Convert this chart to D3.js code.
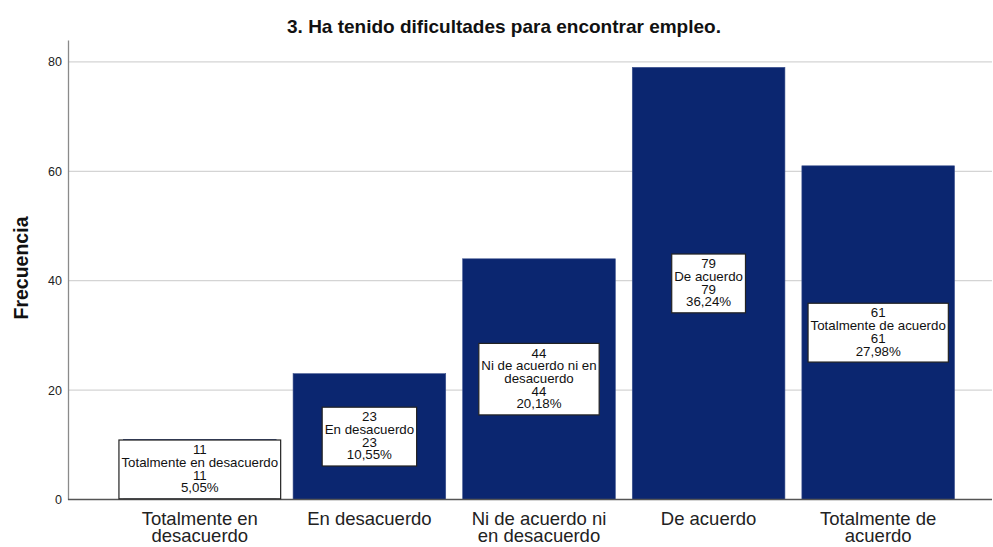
<!DOCTYPE html>
<html>
<head>
<meta charset="utf-8">
<script src="https://cdn.jsdelivr.net/npm/d3@7"></script>
<style>
  body { margin: 0; background: #fff; }
  text { font-family: "Liberation Sans", Arial, sans-serif; }
</style>
</head>
<body>
<svg id="chart" width="993" height="547"></svg>
<script>
// categories and values
var categories = ["Totalmente en desacuerdo", "En desacuerdo", "Ni de acuerdo ni en desacuerdo", "De acuerdo", "Totalmente de acuerdo"];
var tickLines = [["Totalmente en", "desacuerdo"], ["En desacuerdo"], ["Ni de acuerdo ni", "en desacuerdo"], ["De acuerdo"], ["Totalmente de", "acuerdo"]];
var boxLines = [["Totalmente en desacuerdo"], ["En desacuerdo"], ["Ni de acuerdo ni en", "desacuerdo"], ["De acuerdo"], ["Totalmente de acuerdo"]];
var counts = [11, 23, 44, 79, 61];
var percents = ["5,05%", "10,55%", "20,18%", "36,24%", "27,98%"];
var yTicks = [0, 20, 40, 60, 80];

var svg = d3.select("#chart");

// plot edges (window.top is reserved, so keep these in an object)
var plot = { left: 68, right: 992, top: 40, bottom: 499.5 };

var x = d3.scaleBand()
    .domain(categories)
    .range([115, 963])
    .paddingInner(0.1)
    .paddingOuter(0.05);

var y = d3.scaleLinear()
    .domain([0, 84])
    .range([plot.bottom, plot.top]);

// gridlines
svg.append("g")
    .selectAll("line")
    .data(yTicks.filter(function(d) { return d > 0; }))
    .enter().append("line")
    .attr("x1", plot.left)
    .attr("x2", plot.right)
    .attr("y1", function(d) { return y(d); })
    .attr("y2", function(d) { return y(d); })
    .style("stroke", "#d4d4d4")
    .style("stroke-width", 1.3);

// y axis
var yAxis = svg.append("g")
    .attr("transform", "translate(" + plot.left + ",0)")
    .call(d3.axisLeft(y).tickValues(yTicks).tickSize(0).tickPadding(6));
yAxis.select(".domain").style("stroke", "#8a8a8a").style("stroke-width", 1.3);
yAxis.selectAll("text")
    .style("font-family", "'Liberation Sans', Arial, sans-serif")
    .style("font-size", "12.5px")
    .style("fill", "#222");

// bars
var data = categories.map(function(c, i) {
    return { cat: c, value: counts[i], pct: percents[i], box: boxLines[i], tick: tickLines[i] };
});

svg.append("g")
    .selectAll("rect")
    .data(data)
    .enter().append("rect")
    .attr("x", function(d) { return x(d.cat); })
    .attr("y", function(d) { return y(d.value); })
    .attr("width", x.bandwidth())
    .attr("height", function(d) { return y(0) - y(d.value); })
    .style("fill", "#0b2670")
    .style("stroke", "#3a4f8c")
    .style("stroke-width", 0.6);

// baseline
svg.append("line")
    .attr("x1", plot.left)
    .attr("x2", plot.right)
    .attr("y1", y(0))
    .attr("y2", y(0))
    .style("stroke", "#555")
    .style("stroke-width", 1.3);

// label boxes
var lineH = 12.7;
var boxes = svg.append("g")
    .selectAll("g")
    .data(data)
    .enter().append("g");

boxes.each(function(d) {
    var g = d3.select(this);
    var lines = [String(d.value)].concat(d.box, [String(d.value), d.pct]);
    var cx = x(d.cat) + x.bandwidth() / 2;
    var cy = (y(0) + y(d.value)) / 2;
    var h = lines.length * lineH + 8;
    var rect = g.append("rect");
    var t = g.append("text")
        .attr("text-anchor", "middle")
        .style("font-size", "13.3px")
        .style("fill", "#111");
    t.selectAll("tspan")
        .data(lines)
        .enter().append("tspan")
        .attr("x", cx)
        .attr("y", function(l, i) { return cy - h / 2 + 4 + (i + 1) * lineH - 2.5; })
        .text(function(l) { return l; });
    var w = t.node().getBBox().width + 5;
    rect.attr("x", cx - w / 2)
        .attr("y", cy - h / 2)
        .attr("width", w)
        .attr("height", h)
        .style("fill", "#fff")
        .style("stroke", "#222")
        .style("stroke-width", 1.2);
});

// x tick labels
svg.append("g")
    .selectAll("text")
    .data(data)
    .enter().append("text")
    .attr("text-anchor", "middle")
    .style("font-size", "18.5px")
    .style("fill", "#222")
    .each(function(d) {
        d3.select(this).selectAll("tspan")
            .data(d.tick)
            .enter().append("tspan")
            .attr("x", x(d.cat) + x.bandwidth() / 2)
            .attr("y", function(l, i) { return 525 + i * 17; })
            .text(function(l) { return l; });
    });

// title
svg.append("text")
    .attr("x", 504)
    .attr("y", 33)
    .attr("text-anchor", "middle")
    .style("font-size", "19px")
    .style("font-weight", "bold")
    .style("fill", "#111")
    .text("3. Ha tenido dificultades para encontrar empleo.");

// y axis title
svg.append("text")
    .attr("transform", "translate(28,268) rotate(-90)")
    .attr("text-anchor", "middle")
    .style("font-size", "19.5px")
    .style("font-weight", "bold")
    .style("fill", "#111")
    .text("Frecuencia");
</script>
</body>
</html>
